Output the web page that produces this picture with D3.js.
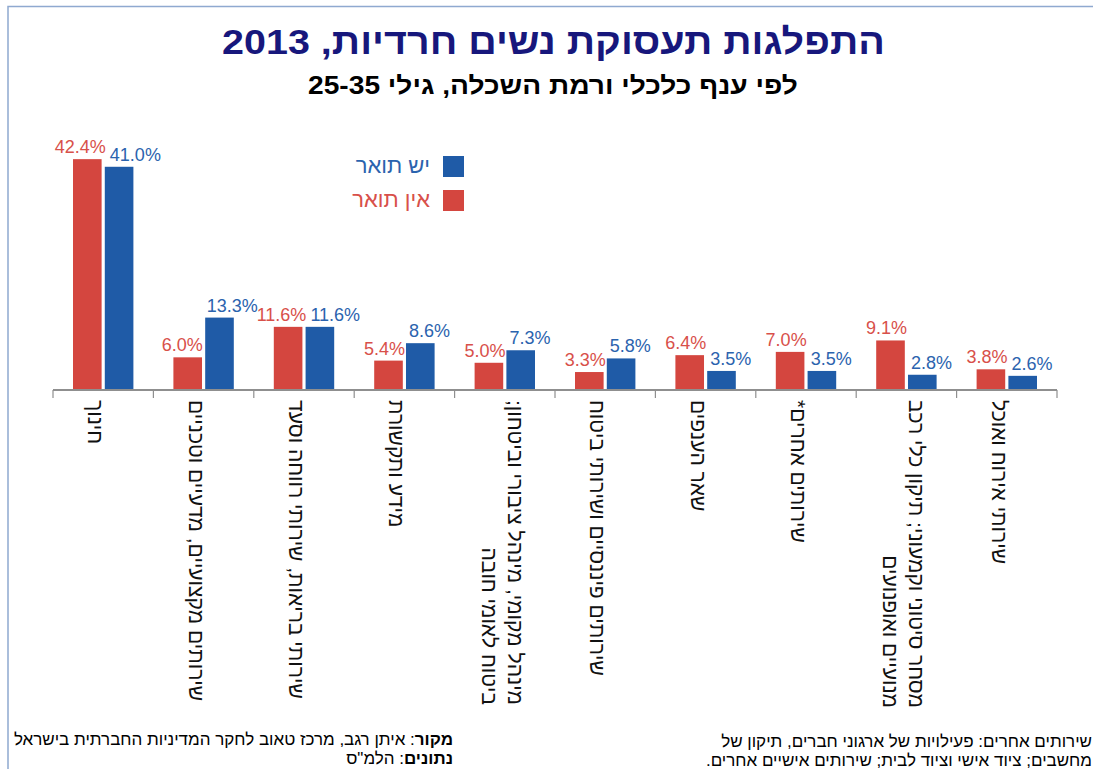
<!DOCTYPE html>
<html><head><meta charset="utf-8">
<script src="https://cdn.jsdelivr.net/npm/d3@7"></script>
<style>
html,body{margin:0;padding:0;background:#fff;}
svg{display:block;font-family:"Liberation Sans",Arial,sans-serif;}
</style></head>
<body><svg id="c" width="1093" height="769"></svg>
<script>
// ---- data ----
const titleText = "התפלגות תעסוקת נשים חרדיות, 2013";
const subtitleText = "לפי ענף כלכלי ורמת השכלה, גילי 25-35";
const categories = [
  ["חינוך"],
  ["שירותים מקצועיים, מדעיים וטכניים"],
  ["שירותי בריאות, שירותי רווחה וסעד"],
  ["מידע ותקשורת"],
  ["מינהל מקומי, מינהל ציבורי וביטחון;", "ביטוח לאומי חובה"],
  ["שירותים פיננסיים ושירותי ביטוח"],
  ["שאר הענפים"],
  ["שירותים אחרים*"],
  ["מסחר סיטוני וקמעוני; תיקון כלי רכב", "מנועיים ואופנועים"],
  ["שירותי אירוח ואוכל"]
];
const seriesNames = ["אין תואר", "יש תואר"];
const noDegree   = [42.4, 6.0, 11.6, 5.4, 5.0, 3.3, 6.4, 7.0, 9.1, 3.8];
const withDegree = [41.0, 13.3, 11.6, 8.6, 7.3, 5.8, 3.5, 3.5, 2.8, 2.6];
const legendOrder = ["יש תואר", "אין תואר"];
const sourceLines = [["מקור", ": איתן רגב, מרכז טאוב לחקר המדיניות החברתית בישראל"], ["נתונים", ": הלמ\"ס"]];
const noteLines = ["שירותים אחרים: פעילויות של ארגוני חברים, תיקון של", "מחשבים; ציוד אישי וציוד לבית; שירותים אישיים אחרים."];

// ---- styles ----
const barColor = {"אין תואר": "#d4463f", "יש תואר": "#1f5ba7"};
const textColor = {"אין תואר": "#d8504a", "יש תואר": "#2b63ae"};

const svg = d3.select("#c");

// frame
svg.append("path").attr("d", "M8,769 V6.5 H1093").attr("fill", "none")
  .attr("stroke", "#8fa9d0").attr("stroke-width", 1.5);

// title
function fitText(text, cx, y, targetW, size, color) {
  const g = svg.append("g");
  const t = g.append("text").attr("direction", "rtl").attr("text-anchor", "middle")
    .attr("font-size", size).attr("font-weight", "bold").attr("fill", color).text(text);
  const w = t.node().getComputedTextLength();
  g.attr("transform", `translate(${cx},${y}) scale(${targetW / w},1)`);
}
fitText(titleText, 553.5, 54, 663, 36, "#17177c");
fitText(subtitleText, 553, 94, 490, 25, "#000");

// scales
const x0 = d3.scaleBand().domain(d3.range(categories.length)).range([53, 1057]).padding(0);
const x1 = d3.scaleBand().domain(seriesNames).range([20, x0.bandwidth() - 20]).paddingInner(0.1);
const y = d3.scaleLinear().domain([0, 45]).range([390, 145]);

const rows = categories.map((c, i) => ({i, vals: [
  {s: seriesNames[0], v: noDegree[i]}, {s: seriesNames[1], v: withDegree[i]}]}));

const groups = svg.append("g").selectAll("g").data(rows).join("g")
  .attr("transform", d => `translate(${x0(d.i)},0)`);
groups.selectAll("rect").data(d => d.vals).join("rect")
  .attr("x", d => x1(d.s)).attr("width", x1.bandwidth())
  .attr("y", d => y(d.v)).attr("height", d => y(0) - y(d.v))
  .attr("fill", d => barColor[d.s]);

// value labels with simple collision push
groups.each(function(d) {
  const g = d3.select(this);
  const labs = d.vals.map(v => {
    const t = g.append("text").attr("text-anchor", "middle").attr("font-size", 18)
      .attr("fill", textColor[v.s]).attr("y", y(v.v) - 6).text(v.v.toFixed(1) + "%");
    return {t, w: t.node().getComputedTextLength(), c: x1(v.s) + x1.bandwidth() / 2};
  });
  const need = (labs[0].w + labs[1].w) / 2 + 4;
  const ov = need - (labs[1].c - labs[0].c);
  if (ov > 0) { labs[0].c -= ov * 0.3; labs[1].c += ov * 0.7; }
  labs.forEach(l => l.t.attr("x", l.c));
});

// axis
const axisY = y(0);
const axis = svg.append("g").attr("stroke", "#8f8f8f").attr("stroke-width", 2.2);
axis.append("line").attr("x1", x0.range()[0]).attr("x2", x0.range()[1]).attr("y1", axisY).attr("y2", axisY);
const tickXs = x0.domain().map(i => x0(i)).concat([x0.range()[1]]);
axis.selectAll("line.t").data(tickXs).join("line").attr("class", "t")
  .attr("stroke-width", 1.2)
  .attr("x1", d => d).attr("x2", d => d).attr("y1", axisY).attr("y2", axisY + 8);

// category labels (rotated)
categories.forEach((lines, i) => {
  const gc = x0(i) + x0.bandwidth() / 2;
  const bx = gc - 15 + (lines.length - 1) * 18;
  const g = svg.append("g").attr("transform", `translate(${bx},400) rotate(90)`);
  const ts = lines.map((ln, k) => g.append("text").attr("direction", "rtl").attr("text-anchor", "start")
    .attr("font-size", 21).attr("fill", "#111").attr("y", k * 26).text(ln));
  const maxW = d3.max(ts, t => t.node().getComputedTextLength());
  ts.forEach(t => t.attr("x", maxW));
});

// legend
legendOrder.forEach((s, k) => {
  const yy = 156 + k * 34;
  svg.append("rect").attr("x", 443).attr("y", yy).attr("width", 21).attr("height", 21).attr("fill", barColor[s]);
  svg.append("text").attr("direction", "rtl").attr("text-anchor", "start").attr("x", 430).attr("y", yy + 17)
    .attr("font-size", 22).attr("fill", textColor[s]).text(s);
});

// source (bottom left)
sourceLines.forEach((parts, k) => {
  const t = svg.append("text").attr("direction", "rtl").attr("text-anchor", "start")
    .attr("x", 453).attr("y", 745 + k * 19).attr("font-size", 17).attr("fill", "#000");
  t.append("tspan").attr("font-weight", "bold").text(parts[0]);
  t.append("tspan").text(parts[1]);
});

// note (bottom right)
noteLines.forEach((ln, k) => {
  svg.append("text").attr("direction", "rtl").attr("text-anchor", "start")
    .attr("x", 1092).attr("y", 747 + k * 19).attr("font-size", 17).attr("fill", "#000").text(ln);
});
</script></body></html>
